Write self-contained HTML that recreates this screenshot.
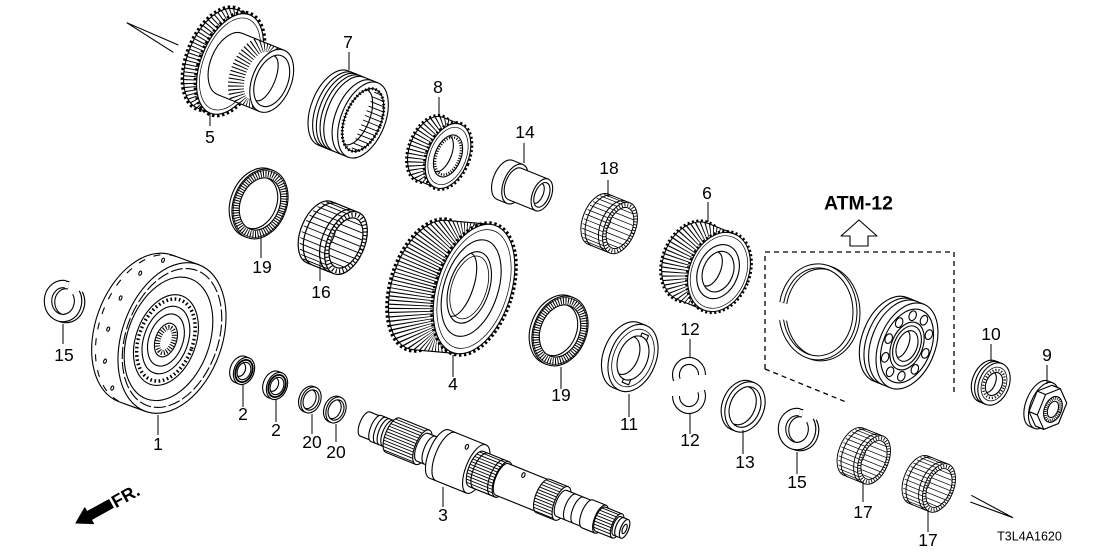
<!DOCTYPE html>
<html><head><meta charset="utf-8">
<style>
html,body{margin:0;padding:0;background:#fff;}
svg{display:block}
.t{font-family:"Liberation Sans",Arial,sans-serif;font-size:17.5px;fill:#000;stroke:none;text-anchor:middle}
</style></head><body>
<svg width="1108" height="554" viewBox="0 0 1108 554" xmlns="http://www.w3.org/2000/svg">
<defs>
 <clipPath id="c5"><path d="M0,-53 H-14 A29,53 0 0 0 -14,53 H0 Z"/></clipPath>
 <clipPath id="c5h"><path d="M45,-33 H0 A19.5,33 0 0 0 0,33 H45 Z"/></clipPath>
 <clipPath id="c8"><path d="M0,-34 H-19 A20.4,34 0 0 0 -19,34 H0 Z"/></clipPath>
 <clipPath id="c6"><path d="M0,-41 H-28 A29.5,41 0 0 0 -28,41 H0 Z"/></clipPath>
 <clipPath id="c4"><path d="M-4.64,-66.47 L-48.64,-56.37 A37,67 0 0 0 -39.36,76.57 L4.64,66.47 Z"/></clipPath>
 <clipPath id="c7b"><ellipse rx="18" ry="33"/></clipPath>
 <clipPath id="brgin"><ellipse rx="13.5" ry="24"/></clipPath>
 <clipPath id="sh3"><path d="M62,-18.5 H30 A7.4,18.5 0 0 0 30,18.5 H62 Z"/></clipPath>
 <clipPath id="sh6"><path d="M148,-19 H120 A7.6,19 0 0 0 120,19 H148 Z"/></clipPath>
 <clipPath id="sh8"><path d="M212,-18 H192 A7.2,18 0 0 0 192,18 H212 Z"/></clipPath>
 <clipPath id="sh11"><path d="M272,-13 H254 A5.2,13 0 0 0 254,13 H272 Z"/></clipPath>
 <g id="brg">
  <path d="M0,-30 H-26 A17,30 0 0 0 -26,30 H0 Z"/>
  <path fill="none" stroke-width="0.8" d="M-30.6,-28 H0 M-33.9,-25 H0 M-36.6,-21 H0 M-38.9,-16 H0 M-40.3,-11 H0 M-41.2,-5.5 H0 M-41.5,0 H0 M-41.2,5.5 H0 M-40.3,11 H0 M-38.9,16 H0 M-36.6,21 H0 M-33.9,25 H0 M-30.6,28 H0"/>
  <path fill="none" d="M-21,-30 A17,30 0 0 0 -21,30 M-5,-30 A17,30 0 0 0 -5,30"/>
  <ellipse rx="17" ry="30"/>
  <ellipse rx="15.2" ry="27" fill="none" stroke-width="4" stroke-dasharray="1 2.2"/>
  <ellipse rx="13.5" ry="24"/>
  <g clip-path="url(#brgin)">
   <path fill="none" stroke-width="0.8" d="M-30,-20 H20 M-30,-14 H20 M-30,-8 H20 M-30,-2 H20 M-30,4 H20 M-30,10 H20 M-30,16 H20 M-30,21 H20"/>
   <ellipse cx="-26" rx="13.5" ry="24"/>
  </g>
 </g>
</defs>

<g fill="#fff" stroke="#000" stroke-width="1.1" stroke-linejoin="round">

 <!-- pointer wedges -->
 <path fill="none" d="M126.7,22.7 L178.3,45 M126.7,22.7 L173.3,52.3"/>
 <path fill="none" d="M971.3,495.3 L1013,517.7 M970.3,502 L1013,517.7"/>

 <!-- Part 5 gear with hub -->
 <g transform="translate(230,64) rotate(22)">
  <ellipse cx="-14" rx="29" ry="53" fill="none" stroke-width="6" stroke-dasharray="2.3 2.4"/>
  <path d="M0,-53 H-14 A29,53 0 0 0 -14,53 H0 Z"/>
  <ellipse cx="-7" rx="29" ry="53" fill="none" stroke-width="14" stroke-dasharray="1 2.6" clip-path="url(#c5)"/>
  <ellipse rx="29" ry="53" fill="none" stroke-width="6" stroke-dasharray="2.3 2.4"/>
  <ellipse rx="29" ry="53"/>
  <ellipse rx="26.5" ry="48.5" fill="none" stroke-width="0.7"/>
  <path d="M45,-33 H0 A19.5,33 0 0 0 0,33 H45 Z"/>
  <ellipse cx="30" rx="19.5" ry="33" fill="none" stroke-width="16" stroke-dasharray="1 2.4" clip-path="url(#c5h)"/>
  <ellipse cx="45" rx="19.5" ry="33"/>
  <ellipse cx="45" rx="16" ry="27"/>
  <path fill="none" d="M38,-24 A10,24 0 0 1 38,24"/>
 </g>

 <!-- Part 7 sleeve -->
 <g transform="translate(363,120) rotate(22)">
  <path d="M0,-40 H-32 A22,40 0 0 0 -32,40 H0 Z"/>
  <path fill="none" d="M-27,-40 A22,40 0 0 0 -27,40 M-23,-40 A22,40 0 0 0 -23,40 M-19,-40 A22,40 0 0 0 -19,40 M-15,-40 A22,40 0 0 0 -15,40 M-6,-40 A22,40 0 0 0 -6,40"/>
  <ellipse rx="22" ry="40"/>
  <ellipse rx="18" ry="33"/>
  <g clip-path="url(#c7b)">
   <path fill="none" stroke-width="0.9" d="M0,-30 H20 M0,-25 H20 M0,-20 H20 M0,-15 H20 M0,-10 H20 M0,-5 H20 M0,0 H20 M0,5 H20 M0,10 H20 M0,15 H20 M0,20 H20 M0,25 H20 M0,30 H20"/>
  </g>
  <path fill="none" d="M-8,-29.5 A14,29.5 0 0 1 -8,29.5"/>
  <ellipse rx="18" ry="33" fill="none" stroke-width="3" stroke-dasharray="1.5 2"/>
 </g>

 <!-- Part 8 gear -->
 <g transform="translate(448,156) rotate(22)">
  <ellipse cx="-19" rx="20.4" ry="34" fill="none" stroke-width="5" stroke-dasharray="2 2.3"/>
  <path d="M0,-34 H-19 A20.4,34 0 0 0 -19,34 H0 Z"/>
  <ellipse cx="-9.5" rx="20.4" ry="34" fill="none" stroke-width="19" stroke-dasharray="1 2.6" clip-path="url(#c8)"/>
  <ellipse rx="20.4" ry="34" fill="none" stroke-width="5" stroke-dasharray="2 2.3"/>
  <ellipse rx="20.4" ry="34"/>
  <ellipse rx="18" ry="30" fill="none" stroke-width="0.7"/>
  <ellipse rx="13" ry="22"/>
  <ellipse rx="11.5" ry="19.5" fill="none" stroke-width="2.5" stroke-dasharray="1 1.6"/>
  <path fill="none" d="M-6,-19 A9,19 0 0 1 -6,19"/>
 </g>

 <!-- Part 14 bushing -->
 <g transform="translate(515,184) rotate(22)">
  <path d="M0,-21 H-11 A11.5,21 0 0 0 -11,21 H0 Z"/>
  <ellipse rx="11.5" ry="21"/>
  <path d="M29,-17 H0 A9.4,17 0 0 0 0,17 H29 Z"/>
  <ellipse cx="29" rx="9.4" ry="17"/>
  <ellipse cx="29" rx="7" ry="13"/>
  <path fill="none" d="M25,-10.5 A5,10.5 0 0 1 25,10.5"/>
 </g>

 <!-- bearings 16, 18, 17, 17 -->
 <use href="#brg" transform="translate(346,243) rotate(22) scale(1.1)"/>
 <use href="#brg" transform="translate(620,228) rotate(22) scale(0.9)"/>
 <use href="#brg" transform="translate(874,460) rotate(22) scale(0.85)"/>
 <use href="#brg" transform="translate(939,488) rotate(22) scale(0.85)"/>

 <!-- Part 6 gear -->
 <g transform="translate(719,272) rotate(22)">
  <ellipse cx="-28" rx="29.5" ry="41" fill="none" stroke-width="5" stroke-dasharray="2 2.3"/>
  <path d="M0,-41 H-28 A29.5,41 0 0 0 -28,41 H0 Z"/>
  <ellipse cx="-14" rx="29.5" ry="41" fill="none" stroke-width="28" stroke-dasharray="1 2.6" clip-path="url(#c6)"/>
  <ellipse rx="29.5" ry="41" fill="none" stroke-width="5" stroke-dasharray="2 2.3"/>
  <ellipse rx="29.5" ry="41"/>
  <ellipse rx="27" ry="37.5" fill="none" stroke-width="0.7"/>
  <ellipse cx="-1" rx="20" ry="28"/>
  <ellipse cx="-1" rx="15" ry="21"/>
  <path fill="none" d="M-8,-18 A9,18 0 0 1 -8,18"/>
 </g>

 <!-- Part 4 gear -->
 <g transform="translate(474,289) rotate(18)">
  <ellipse cx="-44" cy="10.1" rx="37" ry="67" fill="none" stroke-width="6" stroke-dasharray="2.3 2.4"/>
  <path d="M-4.64,-66.47 L-48.64,-56.37 A37,67 0 0 0 -39.36,76.57 L4.64,66.47 Z"/>
  <ellipse cx="-22" cy="5" rx="37" ry="67" fill="none" stroke-width="46" stroke-dasharray="1 2.4" clip-path="url(#c4)"/>
  <ellipse rx="37" ry="67" fill="none" stroke-width="6" stroke-dasharray="2.3 2.4"/>
  <ellipse rx="37" ry="67"/>
  <ellipse rx="33.5" ry="61.5" fill="none" stroke-width="0.7"/>
  <ellipse cx="-3" rx="27" ry="50"/>
  <ellipse cx="-5" rx="20" ry="37"/>
  <ellipse cx="-5" rx="17.5" ry="32.5" fill="none" stroke-width="0.8"/>
  <path fill="none" d="M-14,-33 A13,33 0 0 1 -14,33"/>
 </g>

 <!-- Part 1 drum -->
 <g transform="translate(172,338) rotate(20)">
  <path d="M0,-78 H-28 A50,78 0 0 0 -28,78 H0 Z"/>
  <path fill="none" stroke-dasharray="7 9" d="M-24,-78 A50,78 0 0 0 -24,78"/>
  <g fill="none">
   <ellipse cx="-39" cy="67.5" rx="1.3" ry="2.2"/>
   <ellipse cx="-55" cy="44.7" rx="1.3" ry="2.2"/>
   <ellipse cx="-63" cy="13.5" rx="1.3" ry="2.2"/>
   <ellipse cx="-62" cy="-20" rx="1.3" ry="2.2"/>
   <ellipse cx="-52" cy="-50" rx="1.3" ry="2.2"/>
   <ellipse cx="-35" cy="-70" rx="1.3" ry="2.2"/>
  </g>
  <ellipse rx="50" ry="78"/>
  <ellipse rx="46" ry="72" fill="none" stroke-dasharray="12 3"/>
  <ellipse cx="-3" cy="2" rx="41" ry="64"/>
  <ellipse cx="-5" cy="4" rx="30" ry="47"/>
  <ellipse cx="-5" cy="4" rx="27" ry="42.5" fill="none" stroke-width="3.5" stroke-dasharray="1.6 2.6"/>
  <ellipse cx="-5" cy="4" rx="22" ry="35"/>
  <ellipse cx="-5" cy="4" rx="17" ry="27"/>
  <ellipse cx="-5" cy="4" rx="10.5" ry="17.5"/>
  <ellipse cx="-5" cy="4" rx="7.5" ry="13" fill="none" stroke-width="5" stroke-dasharray="1 1.6"/>
 </g>

 <!-- 15 left clip -->
 <g transform="translate(3,1)" fill="none">
  <path d="M76,292.5 A15,17 0 1 1 65.6,284.3" stroke-width="8.5"/>
  <path d="M76,292.5 A15,17 0 1 1 65.6,284.3" stroke="#fff" stroke-width="6.3"/>
 </g>
 <g fill="none">
  <path d="M76,292.5 A15,17 0 1 1 65.6,284.3" stroke-width="8.5"/>
  <path d="M76,292.5 A15,17 0 1 1 65.6,284.3" stroke="#fff" stroke-width="6.3"/>
 </g>

 <!-- 15 right clip -->
 <g transform="translate(734,128)">
  <g transform="translate(3,1)" fill="none">
   <path d="M76,292.5 A15,17 0 1 1 65.6,284.3" stroke-width="8.5"/>
   <path d="M76,292.5 A15,17 0 1 1 65.6,284.3" stroke="#fff" stroke-width="6.3"/>
  </g>
  <g fill="none">
   <path d="M76,292.5 A15,17 0 1 1 65.6,284.3" stroke-width="8.5"/>
   <path d="M76,292.5 A15,17 0 1 1 65.6,284.3" stroke="#fff" stroke-width="6.3"/>
  </g>
 </g>

 <!-- seals 2 -->
 <g transform="translate(244,371) rotate(22)">
  <path d="M0,-14 H-4 A10,14 0 0 0 -4,14 H0 Z"/>
  <ellipse rx="10" ry="14"/>
  <ellipse rx="8.2" ry="11.5" fill="none" stroke-width="1.8"/>
  <ellipse rx="6.5" ry="9"/>
  <path fill="none" d="M-4,-7.1 A5,7.1 0 0 1 -4,7.1"/>
 </g>
 <g transform="translate(277,386) rotate(22)">
  <path d="M0,-14 H-4 A10,14 0 0 0 -4,14 H0 Z"/>
  <ellipse rx="10" ry="14"/>
  <ellipse rx="8.2" ry="11.5" fill="none" stroke-width="1.8"/>
  <ellipse rx="6.5" ry="9"/>
  <path fill="none" d="M-4,-7.1 A5,7.1 0 0 1 -4,7.1"/>
 </g>
 <!-- rings 20 -->
 <g transform="translate(311,400) rotate(22)">
  <path d="M0,-13.5 H-2.5 A9.5,13.5 0 0 0 -2.5,13.5 H0 Z"/>
  <ellipse rx="9.5" ry="13.5"/>
  <ellipse rx="7.5" ry="10.5"/>
  <path fill="none" d="M-2.5,-9.9 A7,9.9 0 0 1 -2.5,9.9"/>
 </g>
 <g transform="translate(336,410) rotate(22)">
  <path d="M0,-13.5 H-2.5 A9.5,13.5 0 0 0 -2.5,13.5 H0 Z"/>
  <ellipse rx="9.5" ry="13.5"/>
  <ellipse rx="7.5" ry="10.5"/>
  <path fill="none" d="M-2.5,-9.9 A7,9.9 0 0 1 -2.5,9.9"/>
 </g>

 <!-- washers 19 -->
 <g transform="translate(260,204) rotate(22)">
  <path d="M0,-36 H-3 A26.5,36 0 0 0 -3,36 H0 Z"/>
  <ellipse rx="26.5" ry="36"/>
  <ellipse rx="23" ry="31.5" fill="none" stroke-width="7" stroke-dasharray="1 1.5"/>
  <ellipse rx="25.3" ry="34.5" fill="none" stroke-width="0.7"/>
  <ellipse rx="19.5" ry="27"/>
  <path fill="none" d="M-3,-26.7 A19.3,26.7 0 0 1 -3,26.7"/>
 </g>
 <g transform="translate(560,331) rotate(22)">
  <path d="M0,-36 H-3 A26.5,36 0 0 0 -3,36 H0 Z"/>
  <ellipse rx="26.5" ry="36"/>
  <ellipse rx="23" ry="31.5" fill="none" stroke-width="7" stroke-dasharray="1 1.5"/>
  <ellipse rx="25.3" ry="34.5" fill="none" stroke-width="0.7"/>
  <ellipse rx="19.5" ry="27"/>
  <path fill="none" d="M-3,-26.7 A19.3,26.7 0 0 1 -3,26.7"/>
 </g>

 <!-- Part 11 -->
 <g transform="translate(633,358) rotate(22)">
  <path d="M0,-35 H-7 A23,35 0 0 0 -7,35 H0 Z"/>
  <ellipse rx="23" ry="35"/>
  <ellipse rx="19.5" ry="30" fill="none" stroke-width="0.8"/>
  <rect x="-1" y="-26.5" width="7" height="6"/>
  <rect x="-1" y="20.5" width="7" height="6"/>
  <ellipse rx="14.5" ry="23"/>
  <path fill="none" d="M-7,-20 A12,20 0 0 1 -7,20"/>
 </g>

 <!-- Part 12 halves -->
 <g fill="none">
  <path d="M676.8,379.8 A13,14 0 1 1 702,375" stroke-width="8"/>
  <path d="M676.8,379.8 A13,14 0 1 1 702,375" stroke="#fff" stroke-width="5.8"/>
  <path d="M701.2,391.2 A13,14 0 1 1 676,396" stroke-width="8"/>
  <path d="M701.2,391.2 A13,14 0 1 1 676,396" stroke="#fff" stroke-width="5.8"/>
 </g>

 <!-- Part 13 -->
 <g transform="translate(745,407) rotate(22)">
  <path d="M0,-26 H-4 A19,26 0 0 0 -4,26 H0 Z"/>
  <ellipse rx="19" ry="26"/>
  <ellipse rx="15" ry="21"/>
  <path fill="none" d="M-4,-20 A14,20 0 0 1 -4,20"/>
 </g>

 <!-- dashed box and ATM arrow -->
 <path fill="none" stroke-width="1.3" stroke-dasharray="5 4" d="M765,369 V252 H954 V395 M765,369 L846,402"/>
 <polygon points="859,220 877,236 868,236 868,246 850,246 850,236 841,236"/>

 <!-- snap ring -->
 <g fill="none">
  <g transform="translate(3,1)">
   <path d="M781.8,302.4 A37,46 0 1 1 781.6,320" stroke-width="5"/>
   <path d="M781.8,302.4 A37,46 0 1 1 781.6,320" stroke="#fff" stroke-width="3"/>
  </g>
  <path d="M781.8,302.4 A37,46 0 1 1 781.6,320" stroke-width="5"/>
  <path d="M781.8,302.4 A37,46 0 1 1 781.6,320" stroke="#fff" stroke-width="3"/>
 </g>

 <!-- ball bearing -->
 <g transform="translate(907,346) rotate(22)">
  <path d="M0,-45 H-18 A28,45 0 0 0 -18,45 H0 Z"/>
  <path fill="none" d="M-13,-45 A28,45 0 0 0 -13,45 M-8,-45 A28,45 0 0 0 -8,45"/>
  <ellipse rx="28" ry="45"/>
  <ellipse rx="24" ry="38.5"/>
  <g fill="none">
   <ellipse cx="19.75" cy="0" rx="3.5" ry="5"/>
   <ellipse cx="16" cy="18.7" rx="3.5" ry="5"/>
   <ellipse cx="6.1" cy="30.2" rx="3.5" ry="5"/>
   <ellipse cx="-6.1" cy="30.2" rx="3.5" ry="5"/>
   <ellipse cx="-16" cy="18.7" rx="3.5" ry="5"/>
   <ellipse cx="-19.75" cy="0" rx="3.5" ry="5"/>
   <ellipse cx="-16" cy="-18.7" rx="3.5" ry="5"/>
   <ellipse cx="-6.1" cy="-30.2" rx="3.5" ry="5"/>
   <ellipse cx="6.1" cy="-30.2" rx="3.5" ry="5"/>
   <ellipse cx="16" cy="-18.7" rx="3.5" ry="5"/>
  </g>
  <ellipse rx="15.5" ry="25"/>
  <ellipse rx="13" ry="21" fill="none"/>
  <ellipse rx="10" ry="16"/>
  <path fill="none" d="M-5,-13.9 A6,13.9 0 0 1 -5,13.9"/>
 </g>

 <!-- Part 10 -->
 <g transform="translate(994,384) rotate(22)">
  <path d="M0,-22 H-7 A15,22 0 0 0 -7,22 H0 Z"/>
  <path fill="none" d="M-3.5,-22 A15,22 0 0 0 -3.5,22"/>
  <ellipse rx="15" ry="22"/>
  <ellipse rx="12" ry="17.5" fill="none" stroke-width="0.8"/>
  <ellipse rx="10" ry="14.5" fill="none" stroke-width="2.5" stroke-dasharray="1 2"/>
  <ellipse rx="8" ry="12"/>
  <path fill="none" d="M-4,-10.4 A5,10.4 0 0 1 -4,10.4"/>
 </g>

 <!-- Part 9 nut -->
 <g transform="translate(1052,409) rotate(22)">
  <path d="M-9,-24.5 H-14 A13,24.5 0 0 0 -14,24.5 H-9 Z"/>
  <ellipse cx="-9" rx="13" ry="24.5"/>
  <polygon points="11.4,-11 11.4,11 0,22 -9,22 -20.4,11 -20.4,-11 -9,-22 0,-22"/>
  <path fill="none" d="M0,22 L-9,22 M-11.4,11 L-20.4,11 M-11.4,-11 L-20.4,-11 M0,-22 L-9,-22"/>
  <polygon points="11.4,-11 11.4,11 0,22 -11.4,11 -11.4,-11 0,-22"/>
  <ellipse cx="1" rx="8.5" ry="13.5"/>
  <ellipse cx="1" rx="7" ry="11.5" fill="none" stroke-width="3" stroke-dasharray="0.8 1.2"/>
  <ellipse cx="1" rx="5" ry="8.5" fill="none"/>
 </g>

 <!-- Shaft 3 -->
 <g transform="translate(365,424) rotate(22)">
  <path d="M12,-13 H0 A5.2,13 0 0 0 0,13 H12 Z"/>
  <ellipse cx="12" rx="5.2" ry="13"/>
  <path d="M30,-14 H12 A5.6,14 0 0 0 12,14 H30 Z"/>
  <path fill="none" d="M17,-14 A5.6,14 0 0 0 17,14 M21,-14 A5.6,14 0 0 0 21,14 M25,-14 A5.6,14 0 0 0 25,14"/>
  <ellipse cx="30" rx="5.6" ry="14"/>
  <path d="M62,-18.5 H30 A7.4,18.5 0 0 0 30,18.5 H62 Z"/>
  <path fill="none" stroke-width="0.9" clip-path="url(#sh3)" d="M20,-16 H62 M20,-13 H62 M20,-10 H62 M20,-7 H62 M20,-4 H62 M20,-1 H62 M20,2 H62 M20,5 H62 M20,8 H62 M20,11 H62 M20,14 H62 M20,17 H62"/>
  <ellipse cx="62" rx="7.4" ry="18.5"/>
  <path d="M80,-15 H62 A6,15 0 0 0 62,15 H80 Z"/>
  <path fill="none" d="M70,-15 A6,15 0 0 0 70,15"/>
  <ellipse cx="80" rx="6" ry="15"/>
  <path d="M120,-26 H80 A10.4,26 0 0 0 80,26 H120 Z"/>
  <path fill="none" d="M87,-26 A10.4,26 0 0 0 87,26"/>
  <ellipse cx="103" cy="-17" rx="1.5" ry="2.5" fill="none"/>
  <ellipse cx="120" rx="10.4" ry="26"/>
  <path d="M148,-19 H120 A7.6,19 0 0 0 120,19 H148 Z"/>
  <path fill="none" stroke-width="0.9" clip-path="url(#sh6)" d="M108,-17 H148 M108,-14 H148 M108,-11 H148 M108,-8 H148 M108,-5 H148 M108,-2 H148 M108,1 H148 M108,4 H148 M108,7 H148 M108,10 H148 M108,13 H148 M108,16 H148"/>
  <path fill="none" d="M125,-19 A7.6,19 0 0 0 125,19 M143,-19 A7.6,19 0 0 0 143,19"/>
  <ellipse cx="148" rx="7.6" ry="19"/>
  <path d="M192,-17 H148 A6.8,17 0 0 0 148,17 H192 Z"/>
  <ellipse cx="166" cy="-12" rx="1.5" ry="2.5" fill="none"/>
  <ellipse cx="192" rx="6.8" ry="17"/>
  <path d="M212,-18 H192 A7.2,18 0 0 0 192,18 H212 Z"/>
  <path fill="none" stroke-width="0.9" clip-path="url(#sh8)" d="M180,-16 H212 M180,-13 H212 M180,-10 H212 M180,-7 H212 M180,-4 H212 M180,-1 H212 M180,2 H212 M180,5 H212 M180,8 H212 M180,11 H212 M180,14 H212 M180,17 H212"/>
  <ellipse cx="212" rx="7.2" ry="18"/>
  <path d="M240,-14 H212 A5.6,14 0 0 0 212,14 H240 Z"/>
  <path fill="none" d="M222,-14 A5.6,14 0 0 0 222,14 M230,-14 A5.6,14 0 0 0 230,14"/>
  <ellipse cx="240" rx="5.6" ry="14"/>
  <path d="M254,-15 H240 A6,15 0 0 0 240,15 H254 Z"/>
  <ellipse cx="254" rx="6" ry="15"/>
  <path d="M272,-13 H254 A5.2,13 0 0 0 254,13 H272 Z"/>
  <path fill="none" stroke-width="0.9" clip-path="url(#sh11)" d="M245,-11 H272 M245,-8 H272 M245,-5 H272 M245,-2 H272 M245,1 H272 M245,4 H272 M245,7 H272 M245,10 H272"/>
  <ellipse cx="272" rx="5.2" ry="13"/>
  <path d="M280,-10 H272 A4,10 0 0 0 272,10 H280 Z"/>
  <path fill="none" d="M275,-10 A4,10 0 0 0 275,10"/>
  <ellipse cx="280" rx="4" ry="10"/>
  <ellipse cx="280" rx="2" ry="5"/>
 </g>

 <!-- leaders -->
 <path fill="none" stroke-width="1" d="M349,52 V70 M210,113 V126 M439,97 V115 M524,143 V163 M608,180 V197 M708,202 V222 M261,236 V258 M320,262 V281 M63,324 V344 M158,415 V435 M243,385 V407 M276,400 V422 M312,414 V434 M336,424 V442 M443,487 V507 M453,355 V377 M561,367 V389 M629,394 V417 M690,339 V357 M690,414 V434 M743,430 V454 M797,452 V474 M863,482 V502 M928,510 V532 M991,344 V362 M1047,365 V384"/>

 <!-- FR arrow -->
 <g transform="translate(76,523) rotate(-29)">
  <polygon fill="#000" points="0,0 15,-9 15,-4.5 40,-4.5 40,4.5 15,4.5 15,9"/>
  <text x="42" y="6.5" style="font-family:'Liberation Sans',Arial,sans-serif;font-size:18px;font-weight:bold;fill:#000;stroke:none">FR.</text>
 </g>
</g>

<!-- labels -->
<text class="t" x="348" y="48">7</text>
<text class="t" x="210" y="143">5</text>
<text class="t" x="438" y="93">8</text>
<text class="t" x="525" y="138">14</text>
<text class="t" x="609" y="174">18</text>
<text class="t" x="707" y="199">6</text>
<text class="t" x="262" y="273">19</text>
<text class="t" x="321" y="298">16</text>
<text class="t" x="64" y="361">15</text>
<text class="t" x="158" y="450">1</text>
<text class="t" x="243" y="420">2</text>
<text class="t" x="276" y="436">2</text>
<text class="t" x="312" y="448">20</text>
<text class="t" x="336" y="458">20</text>
<text class="t" x="443" y="521">3</text>
<text class="t" x="453" y="390">4</text>
<text class="t" x="561" y="401">19</text>
<text class="t" x="629" y="430">11</text>
<text class="t" x="690" y="335">12</text>
<text class="t" x="690" y="446">12</text>
<text class="t" x="745" y="468">13</text>
<text class="t" x="797" y="488">15</text>
<text class="t" x="863" y="518">17</text>
<text class="t" x="928" y="546">17</text>
<text class="t" x="991" y="340">10</text>
<text class="t" x="1047" y="361">9</text>
<text x="858.5" y="209.3" style="font-family:'Liberation Sans',Arial,sans-serif;font-size:19.5px;font-weight:bold;text-anchor:middle;fill:#000">ATM-12</text>
<text x="1029.5" y="540.5" style="font-family:'Liberation Sans',Arial,sans-serif;font-size:12.5px;text-anchor:middle;fill:#000">T3L4A1620</text>
</svg>
</body></html>
